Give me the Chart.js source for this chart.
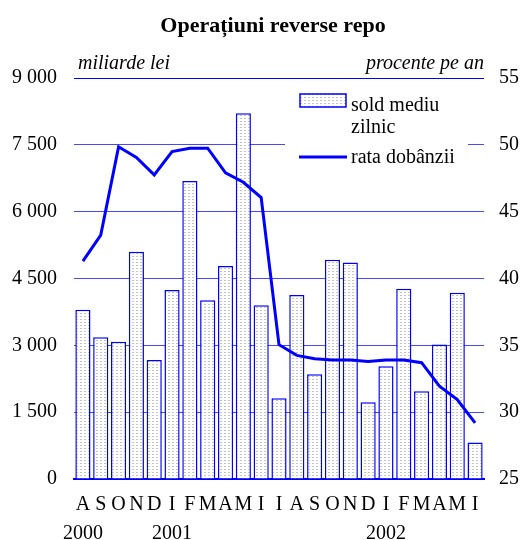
<!DOCTYPE html>
<html>
<head>
<meta charset="utf-8">
<script src="https://cdn.jsdelivr.net/npm/chart.js@4"></script>
<style>
  body { margin: 0; background: #fff; }
</style>
</head>
<body>
<canvas id="chart" width="522" height="540"></canvas>
<script>
// months aug 2000 - iun 2002
const months = ['A', 'S', 'O', 'N', 'D', 'I', 'F', 'M', 'A', 'M', 'I', 'I',
                'A', 'S', 'O', 'N', 'D', 'I', 'F', 'M', 'A', 'M', 'I'];
const years = {0: '2000', 5: '2001', 17: '2002'};

const soldMediu = [3800, 3180, 3080, 5100, 2670, 4240, 6690, 4010, 4780, 8210, 3900, 1810,
                   4130, 2350, 4920, 4860, 1720, 2530, 4270, 1970, 3020, 4180, 820];
const rataDobanzii = [41.3, 43.25, 49.85, 49.05, 47.75, 49.5, 49.75, 49.75, 47.9, 47.2, 46.05, 35.05,
                      34.25, 34.0, 33.9, 33.9, 33.8, 33.9, 33.9, 33.7, 31.95, 30.95, 29.2];

const leftTicks = ['0', '1 500', '3 000', '4 500', '6 000', '7 500', '9 000'];

const FONT = 'Liberation Serif';
const BLUE = '#0000ff';

// dotted fill of the bars
const tile = document.createElement('canvas');
tile.width = 4; tile.height = 3;
const tctx = tile.getContext('2d');
tctx.fillStyle = '#fff';
tctx.fillRect(0, 0, 4, 3);
tctx.fillStyle = '#c4c4c4';
tctx.fillRect(0, 1, 2, 1);
const dots = document.getElementById('chart').getContext('2d').createPattern(tile, 'repeat');

const extras = {
  id: 'extras',
  afterDraw(chart) {
    const c = chart.ctx;
    const xs = chart.scales.x;
    c.save();
    c.fillStyle = '#000';
    c.textBaseline = 'alphabetic';
    c.font = 'bold 22px "' + FONT + '"';
    c.textAlign = 'center';
    c.fillText('Operațiuni reverse repo', 273, 32);

    // years under the month letters
    c.font = '20px "' + FONT + '"';
    for (const i in years) {
      c.fillText(years[i], xs.getPixelForValue(Number(i)), 539);
    }

    c.font = 'italic 20px "' + FONT + '"';
    c.textAlign = 'left';
    c.fillText('miliarde lei', 78, 69);
    c.textAlign = 'right';
    c.fillText('procente pe an', 484, 69);

    // legend
    c.fillStyle = '#fff';
    c.fillRect(285, 86, 183, 84);
    c.fillStyle = dots;
    c.fillRect(300, 94, 46, 13);
    c.strokeStyle = BLUE;
    c.lineWidth = 1.5;
    c.strokeRect(300, 94, 46, 13);
    c.lineWidth = 3;
    c.beginPath();
    c.moveTo(299, 157);
    c.lineTo(347, 157);
    c.stroke();

    c.fillStyle = '#000';
    c.font = '20px "' + FONT + '"';
    c.textAlign = 'left';
    c.fillText('sold mediu', 351, 111);
    c.fillText('zilnic', 351, 133);
    c.fillText('rata dobânzii', 351, 163);
    c.restore();
  }
};

new Chart(document.getElementById('chart'), {
  type: 'bar',
  data: {
    labels: months,
    datasets: [{
      type: 'line',
      label: 'rata dobânzii',
      data: rataDobanzii,
      yAxisID: 'y1',
      borderColor: BLUE,
      borderWidth: 3,
      pointRadius: 0,
      tension: 0,
      order: 0
    }, {
      label: 'sold mediu zilnic',
      data: soldMediu,
      yAxisID: 'y',
      backgroundColor: dots,
      borderColor: BLUE,
      borderWidth: 1.5,
      barPercentage: 0.85,
      categoryPercentage: 1,
      order: 1
    }]
  },
  options: {
    responsive: false,
    animation: false,
    layout: { padding: { top: 78, left: 0, right: 0, bottom: 0 } },
    plugins: { legend: { display: false }, tooltip: { enabled: false } },
    scales: {
      x: {
        grid: { display: false, drawTicks: false },
        border: { display: true, color: BLUE, width: 2 },
        ticks: {
          color: '#000', padding: 14, maxRotation: 0, autoSkip: false,
          font: { family: FONT, size: 20, lineHeight: 1.2 }
        },
        afterFit(s) { s.height = 61; }
      },
      y: {
        position: 'left',
        min: 0, max: 9000,
        ticks: {
          stepSize: 1500, color: '#000', padding: 17,
          font: { family: FONT, size: 20 },
          callback: (v, i) => leftTicks[i]
        },
        grid: {
          drawTicks: false,
          color: ctx => (ctx.index === 6 ? BLUE : '#4848ff'),
          lineWidth: 1
        },
        border: { display: false },
        afterFit(s) { s.width = 74; }
      },
      y1: {
        position: 'right',
        min: 25, max: 55,
        ticks: {
          stepSize: 5, color: '#000', padding: 15,
          font: { family: FONT, size: 20 }
        },
        grid: { display: false, drawTicks: false },
        border: { display: false },
        afterFit(s) { s.width = 38; }
      }
    }
  },
  plugins: [extras]
});
</script>
</body>
</html>
